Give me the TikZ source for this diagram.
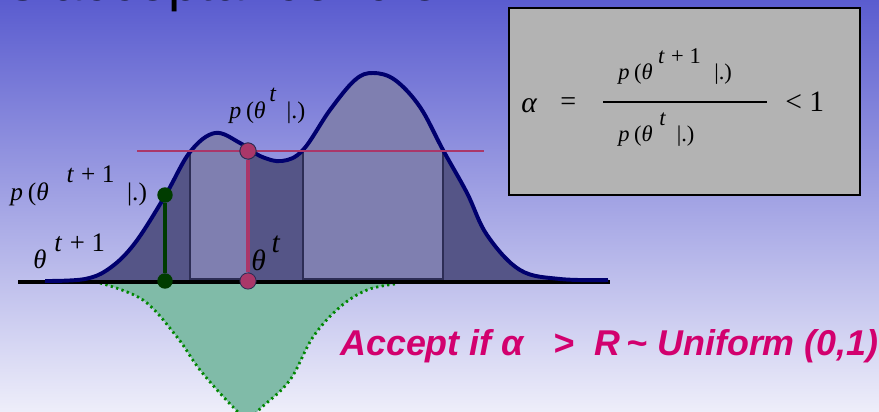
\documentclass[tikz,border=0pt]{standalone}
\usepackage{fontspec}
\newfontfamily\handfont{Liberation Sans}
\newfontfamily\eqfont{Liberation Serif}
\usetikzlibrary{calc,positioning}
\definecolor{skytop}{RGB}{90,92,207}
\definecolor{skymid}{RGB}{168,168,228}
\definecolor{skybot}{RGB}{238,238,250}
\definecolor{massdark}{RGB}{85,85,135}
\definecolor{masslight}{RGB}{127,127,176}
\definecolor{curveblue}{RGB}{0,0,110}
\definecolor{rim}{RGB}{45,45,85}
\definecolor{plum}{RGB}{170,55,105}
\definecolor{leaf}{RGB}{0,60,0}
\definecolor{mint}{RGB}{128,187,168}
\definecolor{dotgreen}{RGB}{0,135,0}
\definecolor{boxgray}{RGB}{179,179,179}
\definecolor{pink}{RGB}{210,0,110}
\newcommand{\vr}[1]{{\eqfont\itshape #1}}
\newcommand{\tpo}{\vr{t}\hspace{0.3em}+\hspace{0.25em}1}
\newcommand{\pof}[3]{\vr{p}\hspace{0.2em}(\vr{θ}\hspace{#2}\raisebox{0.72em}{#1}\hspace{#3}|.)}

\begin{document}
\begin{tikzpicture}[x=0.025cm,y=-0.025cm,
  every node/.style={inner sep=0pt},
  plumdot/.style={circle,draw=rim,fill=plum,minimum size=11.5pt,line width=0.6pt},
  leafdot/.style={circle,fill=leaf,minimum size=11pt},
  lab/.style={font=\eqfont\fontsize{17}{17}\selectfont,anchor=base west}]
  \useasboundingbox (0,0) rectangle (879,412);
  \clip (0,0) rectangle (879,412);
  \shade[top color=skytop,middle color=skymid,bottom color=skybot] (0,0) rectangle (879,412);
  \node[anchor=base east,font=\handfont\fontsize{39}{39}\selectfont] (title) at (440,0.5) {Metropolis acceptance rule};

  \fill[mint] plot[smooth,tension=0.6] coordinates {(100,283) (143,300) (177,337) (200,370) (233,407) (248,418) (262,407) (290,380) (313,337) (340,307) (367,290) (395,284)} -- cycle;
  \draw[dotgreen,line width=2pt,dash pattern=on 1.6pt off 2.4pt] plot[smooth,tension=0.6] coordinates {(100,283) (143,300) (177,337) (200,370) (233,407) (248,418) (262,407) (290,380) (313,337) (340,307) (367,290) (395,284)};

  \begin{scope}
    \path[clip] plot[smooth,tension=0.6] coordinates {(45,281) (85,279) (110,268) (135,243) (165,196) (190,152) (215,133) (240,143) (260,156) (282,161) (303,150) (330,110) (355,80) (373,73) (395,80) (420,107) (443,150) (467,193) (487,235) (520,270) (560,279) (608,280)} -- (608,282) -- (45,282) -- cycle;
    \fill[massdark] (40,60) rectangle (610,282);
    \fill[masslight] (190,60) rectangle (248,279);
    \fill[masslight] (303,60) rectangle (443,279);
    \draw[rim,line width=0.8pt] (190,140) -- (190,279) -- (248,279);
    \draw[rim,line width=0.8pt] (303,140) -- (303,279) -- (443,279) -- (443,140);
  \end{scope}

  \draw[line width=2.2pt] (18,282) -- (610,282);
  \draw[curveblue,line width=2.8pt] plot[smooth,tension=0.6] coordinates {(45,281) (85,279) (110,268) (135,243) (165,196) (190,152) (215,133) (240,143) (260,156) (282,161) (303,150) (330,110) (355,80) (373,73) (395,80) (420,107) (443,150) (467,193) (487,235) (520,270) (560,279) (608,280)};

  \coordinate (cutl) at (137,151);
  \coordinate (cutr) at (484,151);
  \draw[plum,line width=1.9pt] (cutl) -- (cutr);
  \node[plumdot] (pold) at (248,151) {};
  \node[plumdot] (xold) at (248,281) {};
  \draw[plum,line width=2.2pt] (pold) -- (xold);
  \node[plumdot] at (pold) {};
  \node[leafdot] (pnew) at (165,195) {};
  \node[leafdot] (xnew) at (165,281) {};
  \draw[leaf,line width=2.2pt] (pnew) -- (xnew);

  \node[lab,font=\eqfont\fontsize{18}{18}\selectfont] (pnewlab) at (10,201) {\pof{\tpo}{0.7em}{0.5em}};
  \node[lab,font=\eqfont\fontsize{19}{19}\selectfont] (xnewlab) at (33,268) {\vr{θ}\hspace{0.3em}\raisebox{0.62em}{\tpo}};
  \node[lab] (poldlab) at (229,119) {\pof{\vr{t}}{0.15em}{0.45em}};
  \node[lab,font=\eqfont\fontsize{21}{21}\selectfont] (xoldlab) at (251,270) {\vr{θ}\hspace{0.2em}\raisebox{0.6em}{\vr{t}}};

  \fill[boxgray] (509,8) rectangle (860,195);
  \draw[line width=2pt] (509,8) rectangle (860,195);
  \node[lab,font=\eqfont\fontsize{21}{21}\selectfont] (alpha) at (521,113) {\vr{α}};
  \node[lab,font=\eqfont\fontsize{20}{20}\selectfont] (eq) at (560,111) {=};
  \coordinate (barl) at (603,102);
  \coordinate (barr) at (767,102);
  \draw[line width=2pt] (barl) -- (barr);
  \node[lab,font=\eqfont\fontsize{16}{16}\selectfont] (num) at (618,80) {\pof{\tpo}{0.25em}{0.6em}};
  \node[lab,font=\eqfont\fontsize{16}{16}\selectfont] (den) at (618,142) {\pof{\vr{t}}{0.3em}{0.5em}};
  \node[lab,font=\eqfont\fontsize{21}{21}\selectfont] (ltone) at (785,112) {<\hspace{0.25em}1};

  \node[anchor=base west,text=pink,font=\handfont\bfseries\itshape\fontsize{25.5}{25.5}\selectfont] (accept) at (340,355) {Accept if α \ \ > \ R\,\~{} Uniform (0,1)};
\end{tikzpicture}
\end{document}
